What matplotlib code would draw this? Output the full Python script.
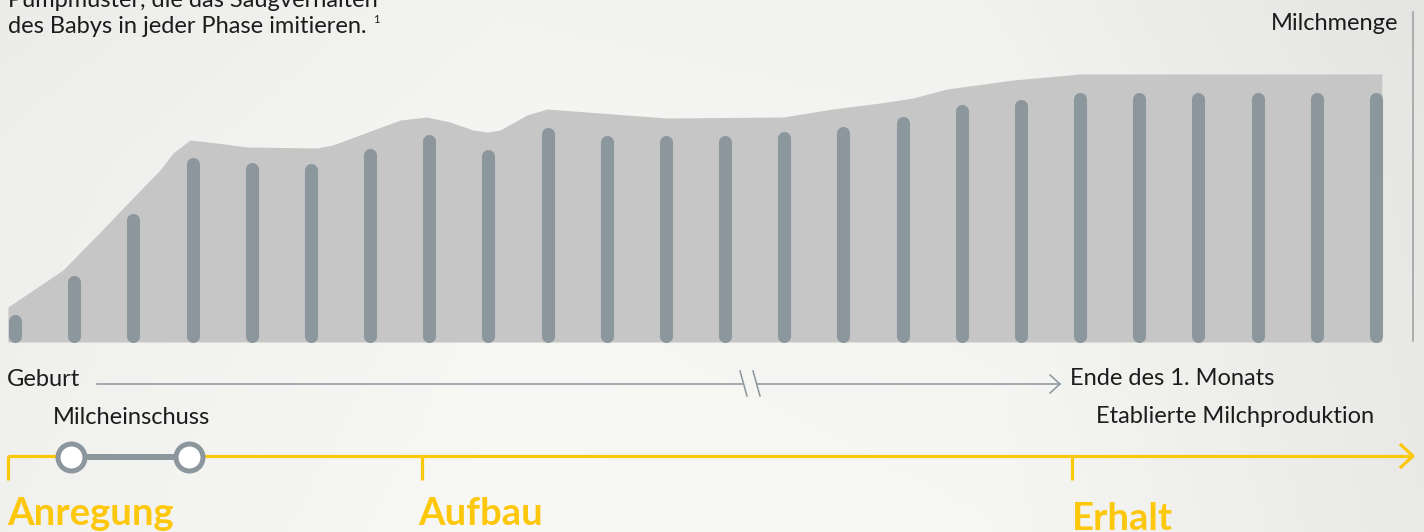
import matplotlib.pyplot as plt
import numpy as np

plt.rcParams['font.family'] = ['Lato', 'DejaVu Sans']

# Milk volume per pumping session (bar heights, arbitrary units)
bar_heights = [28, 67, 129, 185, 180, 179, 194, 208, 193, 215, 207, 207,
               207, 211, 216, 226, 238, 243, 250, 250, 250, 250, 250, 250]

# Envelope behind the bars (x in bar index units)
area_x = [-0.12, 0.81, 1.44, 1.99, 2.45, 2.67, 2.96, 3.41, 3.92, 5.10, 5.37,
          6.51, 6.96, 7.35, 7.74, 7.99, 8.20, 8.65, 8.99, 9.89, 11.02, 12.98,
          13.82, 14.62, 15.18, 15.75, 16.87, 18.00, 23.10]
area_y = [35, 72, 110, 144, 172, 189, 202, 199, 195, 194, 197,
          222, 225, 220, 212, 210, 212, 227, 233, 229, 224, 225,
          233, 239, 244, 253, 262, 268, 268]

phase_labels = ['Anregung', 'Aufbau', 'Erhalt']

gray = '#8b969d'
area_col = '#c6c6c6'
yellow = '#fdc70c'
text_col = '#1c1c1c'

W, H = 1424, 532
fig = plt.figure(figsize=(W / 100, H / 100), dpi=100)

# background
ax_bg = fig.add_axes([0, 0, 1, 1])
cols = np.linspace(0, 1, 300)
shade = np.interp(cols, [0, 0.35, 0.7, 1], [0.935, 0.962, 0.955, 0.905])
rows = np.linspace(0, 1, 100)
vshade = np.interp(rows, [0, 0.3, 1], [-0.01, 0.0, 0.01])
img = np.clip(shade[None, :] + vshade[:, None], 0, 1)
img = np.dstack([img, img, img * 0.99])
ax_bg.imshow(img, aspect='auto', extent=[0, 1, 0, 1])
ax_bg.axis('off')

# chart: 1 y unit = 1 pixel, bar spacing = 59.17 px
step = 59.17
ax = fig.add_axes([0, 0, 1, 1])
ax.patch.set_alpha(0)
ax.set_xlim(-15 / step, (W - 15) / step)
ax.set_ylim(-(H - 342), 342)
ax.axis('off')

ax.fill_between(area_x, 0, area_y, color=area_col, lw=0)
r = 6.5
idx = np.arange(len(bar_heights))
bars = ax.vlines(idx, r, np.array(bar_heights) - r, color=gray, lw=9.4)
bars.set_capstyle('round')

# annotation layer in pixel coordinates
ax2 = fig.add_axes([0, 0, 1, 1])
ax2.patch.set_alpha(0)
ax2.set_xlim(0, W)
ax2.set_ylim(H, 0)
ax2.axis('off')

# vertical axis line
ax2.plot([1413, 1413], [12, 341], color='#9a9d9f', lw=1.1)

# gray time arrow with break
ax2.plot([97, 743], [384, 384], color=gray, lw=1.1)
ax2.plot([757, 1060], [384, 384], color=gray, lw=1.1)
ax2.plot([740, 747], [371, 396], color=gray, lw=1.1)
ax2.plot([753, 760], [371, 396], color=gray, lw=1.1)
ax2.plot([1050, 1060, 1050], [375, 384, 393], color=gray, lw=1.1)

# yellow phase arrow
ax2.plot([8, 1412], [456, 456], color=yellow, lw=2.3, solid_capstyle='butt')
for tx in [8, 422, 1072]:
    ax2.plot([tx, tx], [456, 480], color=yellow, lw=2.3, solid_capstyle='butt')
ax2.plot([1401, 1413, 1401], [445, 456, 467], color=yellow, lw=2.3)

# Milcheinschuss marker
ax2.plot([71, 189], [457, 457], color=gray, lw=4.3)
ax2.plot([71, 189], [457, 457], ls='none', marker='o', ms=19.4, mew=3.6,
         mfc='white', mec=gray)

# texts
fs = 17
ax2.text(8, 7, 'Pumpmuster, die das Saugverhalten', fontsize=fs, color=text_col, va='baseline')
ax2.text(8, 33, 'des Babys in jeder Phase imitieren.', fontsize=fs, color=text_col, va='baseline')
ax2.text(373, 23, '1', fontsize=8, color=text_col, va='baseline')
ax2.text(1398, 30, 'Milchmenge', fontsize=fs, color=text_col, va='baseline', ha='right')
ax2.text(7, 386, 'Geburt', fontsize=fs, color=text_col, va='baseline')
ax2.text(53, 424, 'Milcheinschuss', fontsize=fs, color=text_col, va='baseline')
ax2.text(1070, 385, 'Ende des 1. Monats', fontsize=fs, color=text_col, va='baseline')
ax2.text(1096, 423, 'Etablierte Milchproduktion', fontsize=fs, color=text_col, va='baseline')

for label, lx, ly in zip(phase_labels, [7, 418, 1072], [525, 525, 530]):
    ax2.text(lx, ly, label, fontsize=27.5, color=yellow, fontweight='bold', va='baseline')

fig.savefig('out.png', dpi=100)
